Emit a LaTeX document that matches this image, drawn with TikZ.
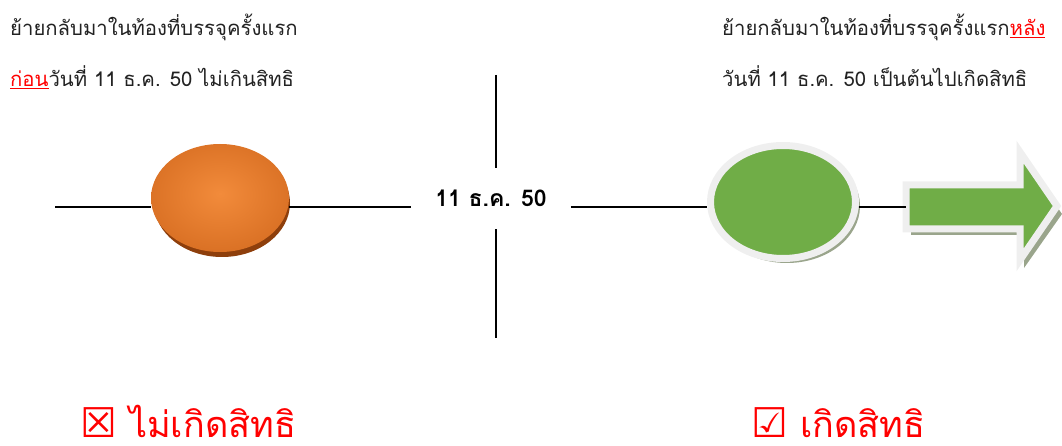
\documentclass[tikz,border=0pt]{standalone}
\usepackage{fontspec}
\usetikzlibrary{shapes.geometric}
\newfontfamily\thai[Script=Thai]{Loma}
\newfontfamily\sym{DejaVu Sans}
\setmainfont[Script=Thai]{Loma}
\definecolor{txt}{HTML}{222222}
\definecolor{oin}{HTML}{F28B3B}
\definecolor{oout}{HTML}{C55A11}
\definecolor{odark}{HTML}{8E3F0C}
\definecolor{gfill}{HTML}{70AD47}
\definecolor{gborder}{HTML}{EFEFEF}
\definecolor{gshadow}{HTML}{9AA58C}
\pgfdeclareradialshading{orb}{\pgfpoint{0bp}{2bp}}{color(0bp)=(oin); color(50bp)=(oout); color(100bp)=(oout)}
\tikzset{
  toptext/.style={anchor=base west, inner sep=0pt, text=txt, font=\thai\fontsize{20.3}{24}\selectfont},
  bigtext/.style={anchor=base west, inner sep=0pt, text=red, font=\thai\fontsize{36}{40}\selectfont},
  axis/.style={line width=1.6pt, black},
}
\newcommand{\ru}[1]{\textcolor{red}{\underline{#1}}}
\begin{document}
\begin{tikzpicture}[x=1pt,y=-1pt]
\useasboundingbox (0,0) rectangle (1062,446);
% top texts
\node[toptext] (tl1) at (10,36) {ย้ายกลับมาในท้องที่บรรจุครั้งแรก};
\node[toptext] (tl2) at (10,87) {\ru{ก่อน}วันที่ 11 ธ.ค. 50 ไม่เกินสิทธิ};
\node[toptext] (tr1) at (722,36) {ย้ายกลับมาในท้องที่บรรจุครั้งแรก\ru{หลัง}};
\node[toptext] (tr2) at (722,87) {วันที่ 11 ธ.ค. 50 เป็นต้นไปเกิดสิทธิ};
% date node
\node[anchor=base, inner xsep=24pt, inner ysep=22pt, text=black, font=\thai\bfseries\fontsize{23}{26}\selectfont] (date) at (491,207) {11 ธ.ค. 50};
\coordinate (lstart) at (55,207);
\coordinate (vtop) at (496,75);
\coordinate (vbot) at (496,338);
\coordinate (atail) at (906,207);
% orange
\fill[odark] (222,203) ellipse (68 and 54);
\node[shape=ellipse, minimum width=138pt, minimum height=108pt, inner sep=0pt, shading=orb] (orange) at (220,198) {};
% green
\fill[gshadow] (787,206) ellipse (73 and 57);
\node[shape=ellipse, minimum width=145pt, minimum height=113pt, inner sep=0pt, draw=gborder, line width=7pt, fill=gfill] (green) at (783,202) {};
% arrow
\fill[gshadow] (911,193) -- (1024,193) -- (1024,158) -- (1062,214) -- (1024,268) -- (1024,235) -- (911,235) -- cycle;
\draw[draw=gborder, line width=7pt, fill=gfill, line join=miter] (atail |- 0,185) -- (1020,185) -- (1020,152) -- (1057,206) -- (1020,260) -- (1020,229) -- (atail |- 0,229) -- cycle;
% lines
\draw[axis] (lstart) -- (lstart -| orange.west);
\draw[axis] (lstart -| orange.east) -- (date.base west);
\draw[axis] (date.base east) -- (date.base east -| green.west);
\draw[axis] (date.base east -| green.east) -- (atail);
\draw[axis] (vtop) -- (vtop |- date.north);
\draw[axis] (vbot |- date.south) -- (vbot);
% bottom
\node[bigtext] (no) at (80,437) {{\sym\fontsize{41}{44}\selectfont ☒} ไม่เกิดสิทธิ};
\node[bigtext] (yes) at (751,437) {{\sym\fontsize{41}{44}\selectfont ☑} เกิดสิทธิ};
\end{tikzpicture}
\end{document}
